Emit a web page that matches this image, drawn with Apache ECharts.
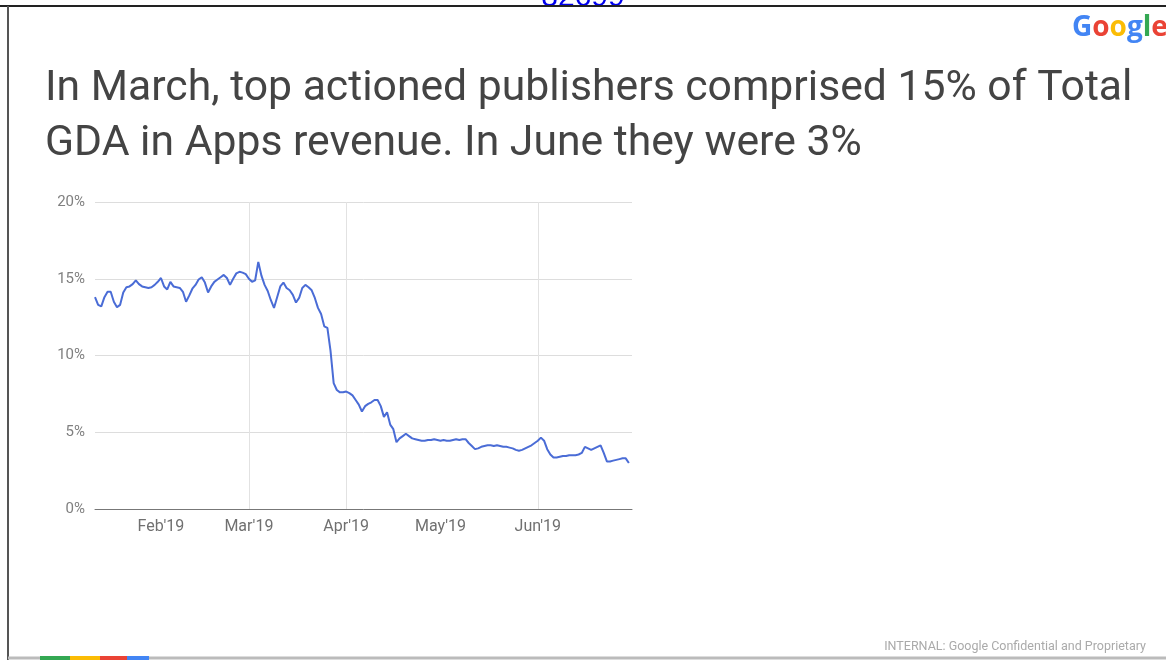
<!DOCTYPE html>
<html>
<head>
<meta charset="utf-8">
<script src="https://cdn.jsdelivr.net/npm/echarts@6/dist/echarts.min.js"></script>
<style>
html,body{margin:0;padding:0;background:#fff;}
#chart{width:1166px;height:660px;}
</style>
</head>
<body>
<div id="chart"></div>
<script>
// ---- data ----
var startDate = '2019-01-11';
var endDate = '2019-07-01';
var share = [
13.8,13.3,13.2,13.8,14.15,14.15,13.5,13.15,13.3,14.1,
14.45,14.5,14.65,14.9,14.65,14.5,14.45,14.4,14.45,14.6,
14.8,15.05,14.5,14.3,14.8,14.5,14.45,14.4,14.15,13.5,
13.9,14.35,14.6,14.95,15.1,14.75,14.1,14.5,14.8,14.95,
15.1,15.25,15.05,14.6,15.0,15.35,15.45,15.4,15.3,15.0,
14.8,14.9,16.1,15.2,14.6,14.2,13.6,13.1,13.8,14.5,
14.75,14.4,14.25,13.95,13.45,13.75,14.4,14.6,14.45,14.25,
13.75,13.1,12.7,11.9,11.8,10.3,8.2,7.75,7.6,7.6,
7.65,7.55,7.4,7.1,6.8,6.35,6.7,6.85,6.95,7.1,
7.1,6.7,6.0,6.3,5.5,5.2,4.35,4.6,4.75,4.9,
4.75,4.6,4.55,4.5,4.45,4.45,4.5,4.5,4.55,4.5,
4.45,4.5,4.45,4.45,4.5,4.55,4.5,4.55,4.55,4.3,
4.1,3.9,3.95,4.05,4.1,4.15,4.15,4.1,4.15,4.1,
4.05,4.05,4.0,3.95,3.85,3.8,3.85,3.95,4.05,4.15,
4.3,4.45,4.65,4.45,3.9,3.55,3.35,3.35,3.4,3.45,
3.45,3.5,3.5,3.5,3.55,3.65,4.05,3.95,3.85,3.95,
4.05,4.15,3.65,3.1,3.1,3.15,3.2,3.25,3.3,3.3,
3.0
];
var monthNames = ['Jan','Feb','Mar','Apr','May','Jun','Jul'];
var labelMonths = ['02','03','04','05','06'];
var gridMonths = ['03','04','06'];
var yTicks = [0,5,10,15,20];
var titleText = 'In March, top actioned publishers comprised 15% of Total\nGDA in Apps revenue. In June they were 3%';
var footerText = 'INTERNAL: Google Confidential and Proprietary';
var topText = '82699';

// build daily date categories
var dates = [];
(function(){
  var d = new Date(startDate + 'T00:00:00Z');
  var e = new Date(endDate + 'T00:00:00Z');
  while (d <= e) {
    dates.push(d.toISOString().slice(0,10));
    d = new Date(d.getTime() + 86400000);
  }
})();

function isMonthStart(idx, list){
  return !!dates[idx] && dates[idx].slice(8,10) === '01' && list.indexOf(dates[idx].slice(5,7)) >= 0;
}

var chart = echarts.init(document.getElementById('chart'), null, {renderer:'canvas'});
chart.setOption({
  backgroundColor:'#ffffff',
  animation:false,
  title:{
    text:titleText,
    left:40, top:57,
    textStyle:{fontFamily:'Roboto', fontWeight:'normal', fontSize:42.7, lineHeight:55, color:'#444444'}
  },
  grid:{left:95, right:534, top:202, bottom:151},
  xAxis:{
    type:'category',
    data:dates,
    boundaryGap:false,
    axisLine:{show:true, lineStyle:{color:'#777777', width:1}},
    axisTick:{show:false},
    axisLabel:{
      interval:function(i){return isMonthStart(i, labelMonths);},
      formatter:function(v){
        return monthNames[parseInt(v.slice(5,7),10)-1] + "'" + v.slice(2,4);
      },
      color:'#707070', fontFamily:'Roboto', fontSize:16, margin:10
    },
    splitLine:{
      show:true,
      interval:function(i){return isMonthStart(i, gridMonths);},
      lineStyle:{color:'#e2e2e2', width:1}
    }
  },
  yAxis:{
    type:'value',
    min:0, max:20, interval:5,
    axisLine:{show:false},
    axisTick:{show:false},
    axisLabel:{formatter:function(v){return yTicks.indexOf(v)>=0 ? v+'%' : '';}, color:'#808080', fontFamily:'Roboto', fontSize:15, margin:10},
    splitLine:{show:true, lineStyle:{color:'#dddddd', width:1}}
  },
  series:[{
    type:'line',
    data:share,
    showSymbol:false,
    smooth:false,
    lineStyle:{color:'#4a6cd6', width:2},
    itemStyle:{color:'#4a6cd6'}
  }],
  graphic:[
    {type:'line', shape:{x1:0,y1:6,x2:1166,y2:6}, style:{stroke:'#222222', lineWidth:2}, z:10},
    {type:'line', shape:{x1:8,y1:6,x2:8,y2:660}, style:{stroke:'#555555', lineWidth:2}, z:10},
    {type:'line', shape:{x1:8,y1:658,x2:1166,y2:658}, style:{stroke:'#bbbbbb', lineWidth:3}, z:10},
    {type:'rect', shape:{x:40,y:656,width:30,height:4}, style:{fill:'#34a853'}, z:11},
    {type:'rect', shape:{x:70,y:656,width:30,height:4}, style:{fill:'#fbbc05'}, z:11},
    {type:'rect', shape:{x:100,y:656,width:27,height:4}, style:{fill:'#ea4335'}, z:11},
    {type:'rect', shape:{x:127,y:656,width:22,height:4}, style:{fill:'#4285f4'}, z:11},
    {type:'text', left:'center', top:-17, style:{text:topText, fill:'#0000ee', font:'30px "Liberation Sans", Arial'}, z:5},
    {type:'text', left:1072, top:14, style:{
      rich:{
        b:{fill:'#4285f4', font:'bold 28px "Open Sans", Roboto'},
        r:{fill:'#ea4335', font:'bold 28px "Open Sans", Roboto'},
        y:{fill:'#fbbc05', font:'bold 28px "Open Sans", Roboto'},
        g:{fill:'#34a853', font:'bold 28px "Open Sans", Roboto'}
      },
      text:'{b|G}{r|o}{y|o}{b|g}{g|l}{r|e}'
    }, z:5},
    {type:'text', right:20, top:640, style:{text:footerText, fill:'#aaaaaa', font:'12.5px Roboto'}, z:5}
  ]
});
</script>
</body>
</html>
